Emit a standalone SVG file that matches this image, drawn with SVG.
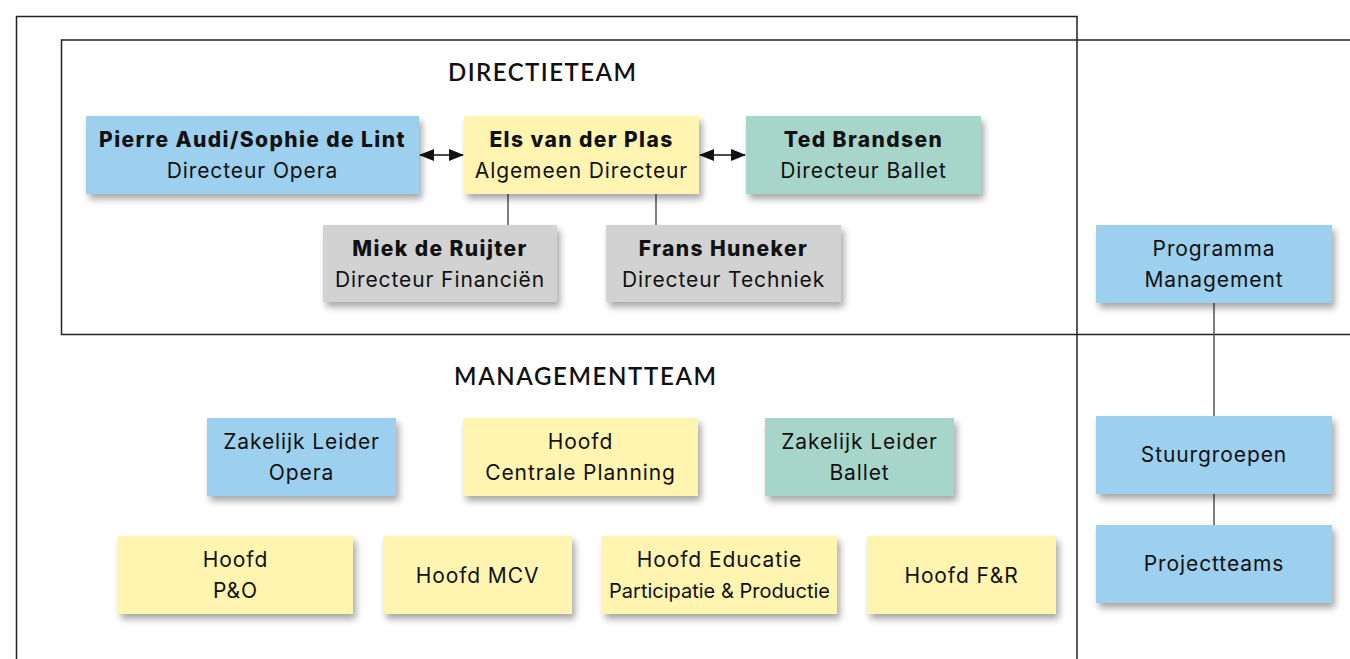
<svg xmlns="http://www.w3.org/2000/svg" width="1350" height="659" viewBox="0 0 1350 659">
<style>
.frame{fill:none;stroke:#222;stroke-width:1.5}
.conn{fill:none;stroke:#555;stroke-width:1.5}
.arr{fill:none;stroke:#111;stroke-width:1.5}
.box{filter:url(#sh)}
.blue{fill:#9dd0ee}
.yellow{fill:#fff5b1}
.green{fill:#a8d5ca}
.gray{fill:#d2d2d2}
text{font-family:Inter,"Noto Sans","Liberation Sans",sans-serif;font-size:21px;letter-spacing:0.9px;fill:#111;text-anchor:middle}
.b{font-weight:800;letter-spacing:1.4px}
.title{font-family:Lato,"Liberation Sans",sans-serif;font-size:24px;font-weight:600;letter-spacing:0}
.small{font-size:20px;letter-spacing:0}
</style>
<defs>
<filter id="sh" x="-10%" y="-20%" width="130%" height="160%">
<feDropShadow dx="3" dy="5" stdDeviation="3.5" flood-color="#000" flood-opacity="0.35"/>
</filter>
<marker id="ah" markerWidth="15" markerHeight="12" refX="14" refY="6" orient="auto-start-reverse" markerUnits="userSpaceOnUse">
<path d="M0,0 L15,6 L0,12 Z" fill="#111"/>
</marker>
</defs>

<g id="frames">
<path class="frame" d="M16.5,659 V16.5 H1077 V659"/>
<path class="frame" d="M1350,40 H61.5 V334.5 H1350"/>
</g>

<g id="titles">
<text class="title" x="542" y="81" textLength="188" lengthAdjust="spacing">DIRECTIETEAM</text>
<text class="title" x="585" y="385" textLength="262" lengthAdjust="spacing">MANAGEMENTTEAM</text>
</g>

<g id="connectors">
<line class="arr" x1="420" y1="155" x2="463" y2="155" marker-start="url(#ah)" marker-end="url(#ah)"/>
<line class="arr" x1="700" y1="155" x2="745" y2="155" marker-start="url(#ah)" marker-end="url(#ah)"/>
<line class="conn" x1="508" y1="194" x2="508" y2="225"/>
<line class="conn" x1="656" y1="194" x2="656" y2="225"/>
<line class="conn" x1="1214" y1="303" x2="1214" y2="416"/>
<line class="conn" x1="1214" y1="494" x2="1214" y2="525"/>
</g>

<g id="pierre"><rect class="box blue" x="86" y="116" width="333" height="78"/>
<text class="b" x="252.5" y="147">Pierre Audi/Sophie de Lint</text><text x="252.5" y="178">Directeur Opera</text></g>
<g id="els"><rect class="box yellow" x="464" y="116" width="235" height="78"/>
<text class="b" x="581.5" y="147">Els van der Plas</text><text x="581.5" y="178">Algemeen Directeur</text></g>
<g id="ted"><rect class="box green" x="746" y="116" width="235" height="78"/>
<text class="b" x="863.5" y="147">Ted Brandsen</text><text x="863.5" y="178">Directeur Ballet</text></g>
<g id="miek"><rect class="box gray" x="323" y="225" width="234" height="77"/>
<text class="b" x="440" y="256">Miek de Ruijter</text><text x="440" y="287">Directeur Financiën</text></g>
<g id="frans"><rect class="box gray" x="606" y="225" width="235" height="77"/>
<text class="b" x="723.5" y="256">Frans Huneker</text><text x="723.5" y="287">Directeur Techniek</text></g>

<g id="programma"><rect class="box blue" x="1096" y="225" width="236" height="78"/>
<text x="1214" y="256">Programma</text><text x="1214" y="287">Management</text></g>
<g id="stuurgroepen"><rect class="box blue" x="1096" y="416" width="236" height="78"/>
<text x="1214" y="462">Stuurgroepen</text></g>
<g id="projectteams"><rect class="box blue" x="1096" y="525" width="236" height="78"/>
<text x="1214" y="571">Projectteams</text></g>

<g id="zl-opera"><rect class="box blue" x="207" y="418" width="189" height="78"/>
<text x="301.5" y="449">Zakelijk Leider</text><text x="301.5" y="480">Opera</text></g>
<g id="hoofd-cp"><rect class="box yellow" x="463" y="418" width="235" height="78"/>
<text x="580.5" y="449">Hoofd</text><text x="580.5" y="480">Centrale Planning</text></g>
<g id="zl-ballet"><rect class="box green" x="765" y="418" width="189" height="78"/>
<text x="859.5" y="449">Zakelijk Leider</text><text x="859.5" y="480">Ballet</text></g>

<g id="hoofd-po"><rect class="box yellow" x="118" y="536" width="235" height="78"/>
<text x="235.5" y="567">Hoofd</text><text x="235.5" y="598">P&amp;O</text></g>
<g id="hoofd-mcv"><rect class="box yellow" x="383" y="536" width="189" height="78"/>
<text x="477.5" y="583">Hoofd MCV</text></g>
<g id="hoofd-edu"><rect class="box yellow" x="602" y="536" width="235" height="78"/>
<text x="719.5" y="567">Hoofd Educatie</text><text class="small" x="719.5" y="598">Participatie &amp; Productie</text></g>
<g id="hoofd-fr"><rect class="box yellow" x="867" y="536" width="189" height="78"/>
<text x="961.5" y="583">Hoofd F&amp;R</text></g>
</svg>
